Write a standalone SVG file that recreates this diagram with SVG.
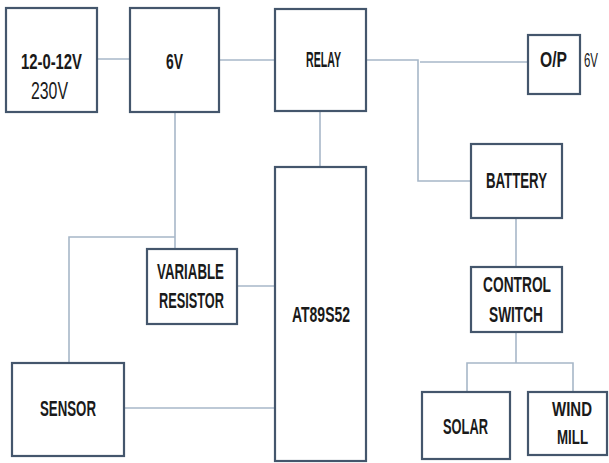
<svg xmlns="http://www.w3.org/2000/svg" width="609" height="463" viewBox="0 0 609 463">
<style>
.box{fill:#ffffff;stroke:#44566c;stroke-width:2.2}
.ln{fill:none;stroke:#a7b7c8;stroke-width:1.6}
text{font-family:"Liberation Sans Narrow","Liberation Sans",Arial,sans-serif;font-size:22px;fill:#1a1a1a;font-weight:bold}
.n{font-weight:normal;font-size:23px}
.s{font-weight:normal;font-size:20px}
.w{font-size:21px}
</style>
<rect width="609" height="463" fill="#ffffff"/>
<g id="connectors">
<path class="ln" d="M97,59H130"/>
<path class="ln" d="M219,60H275"/>
<path class="ln" d="M175,112V249"/>
<path class="ln" d="M175,237H69V363"/>
<path class="ln" d="M237,286H275"/>
<path class="ln" d="M124,408H275"/>
<path class="ln" d="M320,111V167"/>
<path class="ln" d="M366,60H418V181H471"/>
<path class="ln" d="M420,62H528"/>
<path class="ln" d="M516,218V267"/>
<path class="ln" d="M516,332V363"/>
<path class="ln" d="M467,392V363H573V392"/>
</g>
<g id="transformer">
<rect class="box" x="6" y="8" width="91" height="104"/>
<text x="21" y="69" textLength="61" lengthAdjust="spacingAndGlyphs">12-0-12V</text>
<text class="n" x="31" y="99" textLength="37" lengthAdjust="spacingAndGlyphs">230V</text>
</g>
<g id="reg6v">
<rect class="box" x="130" y="8" width="89" height="104"/>
<text x="166" y="69" textLength="17" lengthAdjust="spacingAndGlyphs">6V</text>
</g>
<g id="relay">
<rect class="box" x="275" y="9" width="91" height="102"/>
<text x="306" y="67" textLength="35" lengthAdjust="spacingAndGlyphs">RELAY</text>
</g>
<g id="op">
<rect class="box" x="528" y="35" width="52" height="59"/>
<text x="540" y="67" textLength="27" lengthAdjust="spacingAndGlyphs">O/P</text>
<text class="s" x="584" y="67" textLength="14" lengthAdjust="spacingAndGlyphs">6V</text>
</g>
<g id="battery">
<rect class="box" x="471" y="144" width="91" height="74"/>
<text x="486" y="188" textLength="61" lengthAdjust="spacingAndGlyphs">BATTERY</text>
</g>
<g id="control">
<rect class="box" x="471" y="267" width="91" height="65"/>
<text x="483" y="292" textLength="68" lengthAdjust="spacingAndGlyphs">CONTROL</text>
<text x="489" y="322" textLength="54" lengthAdjust="spacingAndGlyphs">SWITCH</text>
</g>
<g id="resistor">
<rect class="box" x="147" y="249" width="90" height="75"/>
<text x="157" y="279" textLength="67" lengthAdjust="spacingAndGlyphs">VARIABLE</text>
<text x="159" y="308" textLength="65" lengthAdjust="spacingAndGlyphs">RESISTOR</text>
</g>
<g id="mcu">
<rect class="box" x="275" y="167" width="91" height="294"/>
<text x="292" y="322" textLength="58" lengthAdjust="spacingAndGlyphs">AT89S52</text>
</g>
<g id="sensor">
<rect class="box" x="12" y="363" width="112" height="93"/>
<text x="40" y="416" textLength="56" lengthAdjust="spacingAndGlyphs">SENSOR</text>
</g>
<g id="solar">
<rect class="box" x="422" y="392" width="88" height="67"/>
<text x="443" y="434" textLength="45" lengthAdjust="spacingAndGlyphs">SOLAR</text>
</g>
<g id="windmill">
<rect class="box" x="528" y="392" width="79" height="63"/>
<text class="w" x="552" y="416" textLength="40" lengthAdjust="spacingAndGlyphs">WIND</text>
<text class="w" x="557" y="444" textLength="31" lengthAdjust="spacingAndGlyphs">MILL</text>
</g>
</svg>
